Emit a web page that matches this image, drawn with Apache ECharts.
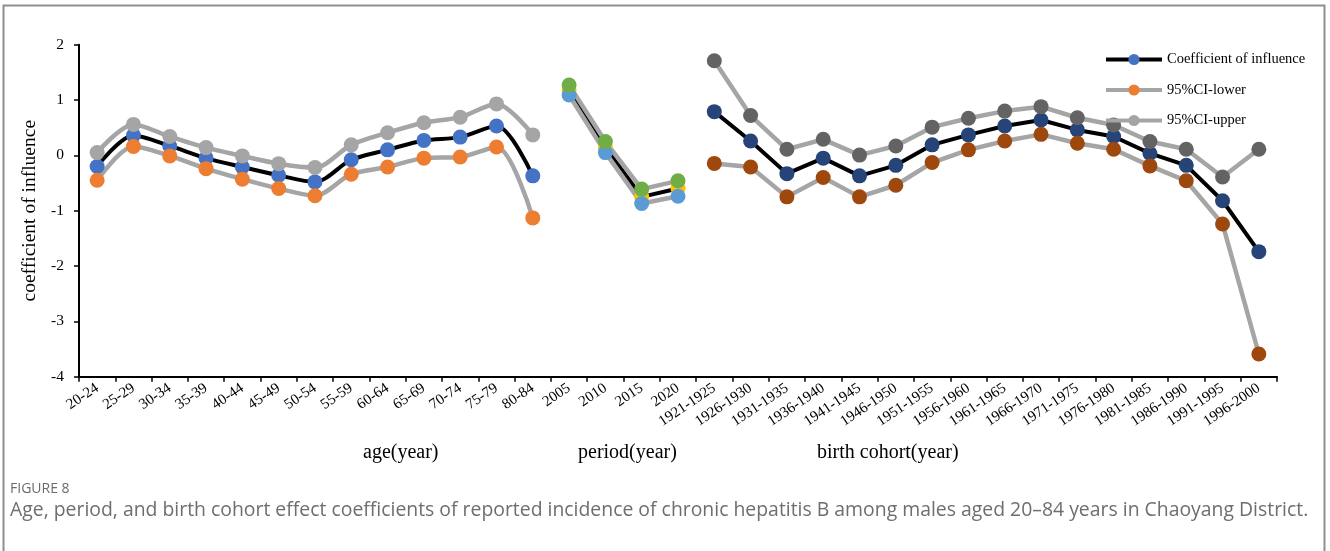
<!DOCTYPE html>
<html>
<head>
<meta charset="utf-8">
<script src="https://cdn.jsdelivr.net/npm/echarts@6/dist/echarts.min.js"></script>
<style>
html,body{margin:0;padding:0;background:#fff;}
#c{width:1330px;height:551px;}
</style>
</head>
<body>
<div id="c"></div>
<script>
const ageCategories = ['20-24','25-29','30-34','35-39','40-44','45-49','50-54','55-59','60-64','65-69','70-74','75-79','80-84'];
const periodCategories = ['2005','2010','2015','2020'];
const cohortCategories = ['1921-1925','1926-1930','1931-1935','1936-1940','1941-1945','1946-1950','1951-1955','1956-1960','1961-1965','1966-1970','1971-1975','1976-1980','1981-1985','1986-1990','1991-1995','1996-2000'];

const ageCoef  = [-0.20, 0.36, 0.17, -0.05, -0.21, -0.36, -0.48, -0.08, 0.10, 0.27, 0.33, 0.53, -0.37];
const ageLower = [-0.45, 0.16, -0.01, -0.24, -0.43, -0.60, -0.73, -0.34, -0.21, -0.05, -0.03, 0.15, -1.13];
const ageUpper = [0.05, 0.56, 0.34, 0.14, -0.01, -0.15, -0.22, 0.19, 0.41, 0.59, 0.69, 0.93, 0.37];

const periodCoef  = [1.18, 0.15, -0.75, -0.60];
const periodLower = [1.09, 0.05, -0.87, -0.74];
const periodUpper = [1.27, 0.25, -0.61, -0.46];

const cohortCoef  = [0.79, 0.26, -0.33, -0.05, -0.37, -0.18, 0.19, 0.37, 0.53, 0.64, 0.46, 0.34, 0.035, -0.18, -0.82, -1.74];
const cohortLower = [-0.145, -0.21, -0.75, -0.40, -0.75, -0.54, -0.13, 0.10, 0.26, 0.38, 0.22, 0.11, -0.19, -0.46, -1.24, -3.59];
const cohortUpper = [1.71, 0.72, 0.11, 0.29, 0.005, 0.17, 0.51, 0.67, 0.80, 0.88, 0.68, 0.55, 0.25, 0.11, -0.39, 0.11];

const yTicks = [-4, -3, -2, -1, 0, 1, 2];
const legendNames = ['Coefficient of influence', '95%CI-lower', '95%CI-upper'];
const groupTitles = ['age(year)', 'period(year)', 'birth cohort(year)'];

const categories = ageCategories.concat(periodCategories, cohortCategories);
const nA = ageCategories.length, nP = periodCategories.length, nC = cohortCategories.length;
function place(arr, offset) {
  const out = new Array(categories.length).fill(null);
  arr.forEach((v, i) => { out[offset + i] = v; });
  return out;
}
const serif = '"Liberation Serif", "Times New Roman", serif';
function mk(name, data, offset, lineColor, markerColor, lineWidth, smooth) {
  return {
    name: name, type: 'line', data: place(data, offset),
    symbol: 'circle', symbolSize: 15, smooth: smooth,
    connectNulls: false,
    lineStyle: { color: lineColor, width: lineWidth },
    itemStyle: { color: markerColor },
    emphasis: { disabled: true },
    animation: false
  };
}
const BLACK = '#000000', GRAY = '#a5a5a5';
const series = [
  mk(legendNames[0], ageCoef, 0, BLACK, '#4472C4', 4, 0.3),
  mk(legendNames[1], ageLower, 0, GRAY, '#ED7D31', 4.5, 0.3),
  mk(legendNames[2], ageUpper, 0, GRAY, '#A5A5A5', 4.5, 0.3),
  mk('p-coef', periodCoef, nA, BLACK, '#FFC000', 4, false),
  mk('p-lower', periodLower, nA, GRAY, '#5B9BD5', 4.5, false),
  mk('p-upper', periodUpper, nA, GRAY, '#70AD47', 4.5, false),
  mk('c-coef', cohortCoef, nA + nP, BLACK, '#264478', 4, false),
  mk('c-lower', cohortLower, nA + nP, GRAY, '#9E480E', 4.5, false),
  mk('c-upper', cohortUpper, nA + nP, GRAY, '#636363', 4.5, false)
];

const chart = echarts.init(document.getElementById('c'), null, { renderer: 'canvas' });
chart.setOption({
  animation: false,
  backgroundColor: '#ffffff',
  grid: { left: 79, right: 53, top: 44.7, bottom: 174.3, containLabel: false },
  legend: {
    data: legendNames, orient: 'vertical', left: 1099, top: 47,
    itemWidth: 56, itemHeight: 14, itemGap: 15.5,
    lineStyle: { width: 4 },
    textStyle: { fontFamily: serif, fontSize: 14.5, color: '#000' },
    selectedMode: false
  },
  xAxis: {
    type: 'category', data: categories, boundaryGap: true,
    axisLine: { onZero: false, lineStyle: { color: '#000', width: 2 } },
    axisTick: { show: true, length: 5, lineStyle: { color: '#000', width: 1.5 } },
    axisLabel: { interval: 0, rotate: 34, fontFamily: serif, fontSize: 15, color: '#000', margin: 10 }
  },
  yAxis: {
    type: 'value', min: yTicks[0], max: yTicks[yTicks.length - 1], interval: 1,
    name: 'coefficient of influence', nameLocation: 'middle', nameGap: 37,
    nameTextStyle: { fontFamily: serif, fontSize: 19.5, color: '#000' },
    axisLine: { show: true, lineStyle: { color: '#000', width: 2 } },
    axisTick: { show: true, length: 5, lineStyle: { color: '#000', width: 1.5 } },
    splitLine: { show: false },
    axisLabel: { fontFamily: serif, fontSize: 15.5, color: '#000', margin: 15 }
  },
  series: series,
  graphic: [
    { type: 'rect', shape: { x: 3.5, y: 5.5, width: 1321, height: 600 }, style: { fill: 'none', stroke: '#8f8f8f', lineWidth: 2 }, silent: true },
    { type: 'text', left: 363, top: 443, style: { text: groupTitles[0], font: '20px ' + serif, fill: '#000' } },
    { type: 'text', left: 578, top: 443, style: { text: groupTitles[1], font: '20px ' + serif, fill: '#000' } },
    { type: 'text', left: 817, top: 443, style: { text: groupTitles[2], font: '20px ' + serif, fill: '#000' } },
    { type: 'text', left: 10, top: 482, style: { text: 'FIGURE 8', font: '14px "Open Sans", sans-serif', fill: '#6b6b6b' } },
    { type: 'text', left: 10, top: 501, style: { text: 'Age, period, and birth cohort effect coefficients of reported incidence of chronic hepatitis B among males aged 20\u201384 years in Chaoyang District.', font: '19.4px "Open Sans", sans-serif', fill: '#6e6e6e' } }
  ]
});
</script>
</body>
</html>
